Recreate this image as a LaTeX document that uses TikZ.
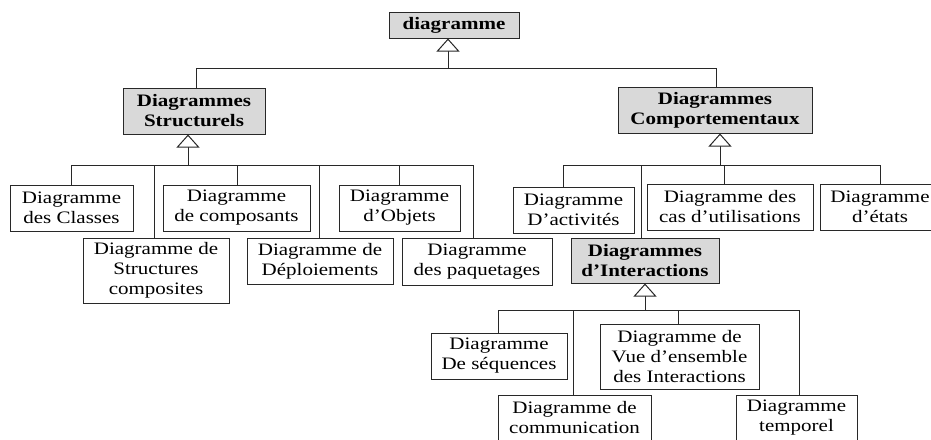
\documentclass[tikz,border=0pt]{standalone}
\usepackage{fontspec}
\setmainfont{Liberation Serif}[FakeStretch=1.2]
\usetikzlibrary{arrows.meta}
\definecolor{headfill}{RGB}{217,217,217}
\definecolor{linec}{RGB}{40,40,40}
\begin{document}
\begin{tikzpicture}[x=1pt,y=-1pt,
  box/.style={draw=linec, line width=1pt, fill=white, align=center, inner sep=0pt,
    font=\fontsize{17.5}{20}\selectfont},
  head/.style={box, fill=headfill, font=\fontsize{17.5}{20}\selectfont\bfseries},
  link/.style={draw=linec, line width=1pt},
  gen/.style={link, -{Triangle[open, length=13pt, width=23pt, fill=white]}}
]
\useasboundingbox (0,0) rectangle (931,439);
\clip (0,0) rectangle (931,439);

% nodes
\node[head, minimum width=130pt, minimum height=26pt] (top) at (454,25) {diagramme};
\node[head, minimum width=142pt, minimum height=46pt] (struct) at (194,111) {Diagrammes\\Structurels};
\node[head, minimum width=194pt, minimum height=46pt] (comp) at (715,110) {Diagrammes\\Comportementaux};

\node[box, minimum width=123pt, minimum height=46pt] (classes) at (71.5,208) {Diagramme\\des Classes};
\node[box, minimum width=147pt, minimum height=46pt] (compo) at (236.5,208) {Diagramme\\de composants};
\node[box, minimum width=121pt, minimum height=46pt] (objets) at (399.5,208) {Diagramme\\d’Objets};
\node[box, minimum width=146pt, minimum height=65pt] (structc) at (156,270.5) {Diagramme de\\Structures\\composites};
\node[box, minimum width=146pt, minimum height=46pt] (deploi) at (320,261) {Diagramme de\\Déploiements};
\node[box, minimum width=150pt, minimum height=47pt] (paquet) at (477,261.5) {Diagramme\\des paquetages};

\node[box, minimum width=121pt, minimum height=46pt] (activ) at (573.5,210) {Diagramme\\D’activités};
\node[box, minimum width=166pt, minimum height=46pt] (cas) at (730,207) {Diagramme des\\cas d’utilisations};
\node[box, minimum width=120pt, minimum height=46pt] (etats) at (880,207) {Diagramme\\d’états};
\node[head, minimum width=148pt, minimum height=45pt] (inter) at (645,260.5) {Diagrammes\\d’Interactions};

\node[box, minimum width=136pt, minimum height=46pt] (seq) at (499,356) {Diagramme\\De séquences};
\node[box, minimum width=159pt, minimum height=65pt] (vue) at (679.5,356.5) {Diagramme de\\Vue d’ensemble\\des Interactions};
\node[box, minimum width=153pt, minimum height=46pt] (commu) at (574.5,418) {Diagramme de\\communication};
\node[box, minimum width=121pt, minimum height=46pt] (tempo) at (796.5,418) {Diagramme\\temporel};

% hubs
\coordinate (hTop) at (448,68);
\coordinate (hStruct) at (188,165);
\coordinate (hComp) at (720,165);
\coordinate (hInter) at (645,310);

% generalization arrows
\draw[gen] (hTop) -- (hTop |- top.south);
\draw[gen] (hStruct) -- (hStruct |- struct.south);
\draw[gen] (hComp) -- (hComp |- comp.south);
\draw[gen] (hInter) -- (hInter |- inter.south);

% top level
\draw[link] (hTop) -| (196,0 |- struct.north);
\draw[link] (hTop) -| (716,0 |- comp.north);

% structural
\draw[link] (hStruct) -| (71,0 |- classes.north);
\draw[link] (hStruct) -| (154,0 |- structc.north);
\draw[link] (hStruct) -| (237,0 |- compo.north);
\draw[link] (hStruct) -| (319,0 |- deploi.north);
\draw[link] (hStruct) -| (399,0 |- objets.north);
\draw[link] (hStruct) -| (473,0 |- paquet.north);

% behavioural
\draw[link] (hComp) -| (563,0 |- activ.north);
\draw[link] (hComp) -| (641,0 |- inter.north);
\draw[link] (hComp) -| (724,0 |- cas.north);
\draw[link] (hComp) -| (880,0 |- etats.north);

% interactions
\draw[link] (hInter) -| (498,0 |- seq.north);
\draw[link] (hInter) -| (573,0 |- commu.north);
\draw[link] (hInter) -| (678,0 |- vue.north);
\draw[link] (hInter) -| (799,0 |- tempo.north);
\end{tikzpicture}
\end{document}
